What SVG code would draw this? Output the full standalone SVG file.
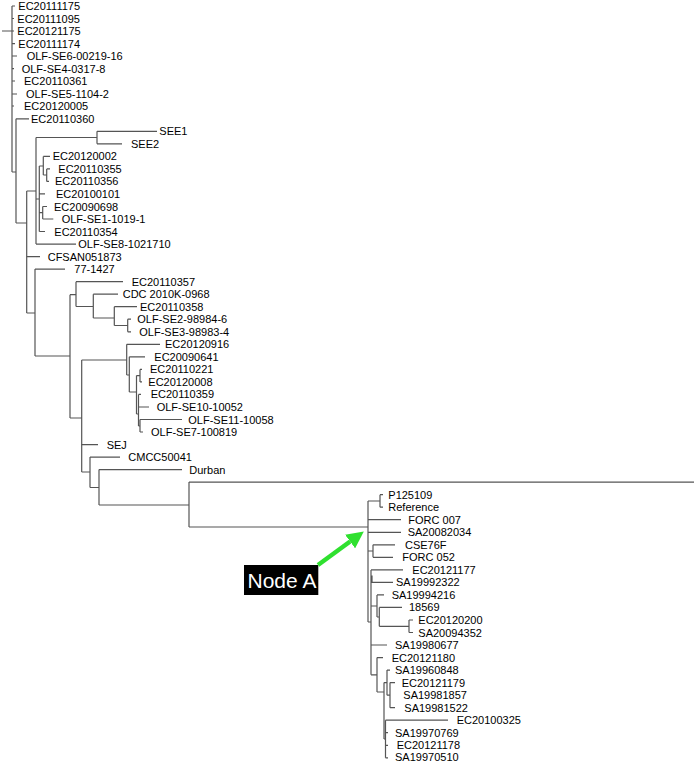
<svg xmlns="http://www.w3.org/2000/svg" width="694" height="761" viewBox="0 0 694 761">
<style>
.e{fill:none;stroke:#555;stroke-width:1.2}
.t{font-family:"Liberation Sans",Arial,Helvetica,sans-serif;font-size:11px;fill:#000}
.na{font-family:"Liberation Sans",Arial,Helvetica,sans-serif;font-size:21px;fill:#fff}
</style>
<defs>
<marker id="ah" markerUnits="userSpaceOnUse" markerWidth="17" markerHeight="17" viewBox="0 0 17 17" refX="0" refY="8.5" orient="auto">
<path d="M0,0 L17,8.5 L0,17 z" fill="#2fe02f"/>
</marker>
</defs>
<rect width="694" height="761" fill="#fff"/>
<g id="connectors" class="e">
<path d="M2,31 H12 M12,6 V172 M12,6 H15 M12,18.5 H14 M12,31 H14 M12,43.6 H15 M12,56 H17 M12,68.7 H14 M12,81 H15 M12,94 H17 M12,106 H14"/>
<path d="M12,172 H16 M16,118.8 V223 M16,118.8 H29 M16,223 H26.7 M26.7,191 V313 M26.7,191 H36"/>
<path d="M36,137.5 V244.1 M36,137.5 H97 M97,131.3 V143.8 M97,131.3 H157 M97,143.8 H122"/>
<path d="M36,199 H39.3 M39.3,166 V231.5 M39.3,166 H43.3 M43.3,156.4 V175 M43.3,156.4 H50 M43.3,175 H46.7 M46.7,168.9 V181.4 M46.7,168.9 H50 M46.7,181.4 H49 M39.3,193.9 H45 M39.3,212.7 H42.7 M42.7,206.5 V219 M42.7,206.5 H47 M42.7,219 H53.3 M39.3,231.5 H45 M36,244.1 H76"/>
<path d="M26.7,256.6 H40 M26.7,313 H35 M35,269.1 V356 M35,269.1 H65"/>
<path d="M35,356 H70 M70,294.7 V418 M70,294.7 H76 M76,281.7 V306.5 M76,281.7 H123 M76,306.5 H93.3 M93.3,294.2 V318 M93.3,294.2 H118 M93.3,318 H114.3 M114.3,306.7 V325.5 M114.3,306.7 H137 M114.3,325.5 H127.7 M127.7,319.2 V331.8 M127.7,319.2 H131 M127.7,331.8 H131"/>
<path d="M70,418 H81.7 M81.7,360 V472 M81.7,360 H126.7 M126.7,344.3 V375 M126.7,344.3 H160 M126.7,375 H129.3 M129.3,356.8 V392 M129.3,356.8 H145 M129.3,392 H136.5 M136.5,375.6 V414 M136.5,375.6 H140 M140,369.4 V381.9 M140,369.4 H142 M140,381.9 H142 M136.5,414 H138.5 M138.5,394.4 V426 M138.5,394.4 H141 M138.5,407 H149 M138.5,426 H140 M140,419.5 V432 M140,419.5 H182 M140,432 H143"/>
<path d="M81.7,444.6 H98 M81.7,472 H90 M90,457.1 V487.5 M90,457.1 H120 M90,487.5 H99 M99,469.6 V505 M99,469.6 H182 M99,505 H189 M189,482.1 V527 M189,482.1 H694 M189,527 H368"/>
<path d="M368,501 V622 M368,501 H380 M380,494.7 V507.2 M380,494.7 H383 M380,507.2 H383 M368,519.7 H401 M368,532.3 H401 M368,551 H373 M373,544.8 V557.3 M373,544.8 H395 M373,557.3 H393"/>
<path d="M368,622 H371 M371,569.9 V674.8 M371,569.9 H403 M371,576 H372 V582.4 H393 M371,606 H377 M377,594.9 V617 M377,594.9 H384 M377,617 H379.3 M379.3,607.4 V626.3 M379.3,607.4 H402 M379.3,626.3 H409 M409,620 V632.5 M409,620 H413 M409,632.5 H413"/>
<path d="M371,645 H387 M371,674.8 H377 M377,657.6 V692 M377,657.6 H383 M377,692 H384 M384,682.6 V739 M384,682.6 H387 M387,670.1 V695.2 M387,670.1 H390 M387,695.2 H390 M390,682.6 V707.7 M390,682.6 H395 M390,707.7 H395 M384,739 H385.5 M385.5,720.2 V757.8 M385.5,720.2 H448 M385.5,732.7 H388 M385.5,745.3 H388 M385.5,757.8 H388"/>
</g>
<g id="leaves" class="t">
<g id="n1"><text x="18.3" y="10">EC20111175</text></g>
<g id="n2"><text x="17.3" y="22.5">EC20111095</text></g>
<g id="n3"><text x="17.3" y="35.1">EC20121175</text></g>
<g id="n4"><text x="18.3" y="47.6">EC20111174</text></g>
<g id="n5"><text x="26.7" y="60.1">OLF-SE6-00219-16</text></g>
<g id="n6"><text x="21.7" y="72.7">OLF-SE4-0317-8</text></g>
<g id="n7"><text x="24" y="85.2">EC20110361</text></g>
<g id="n8"><text x="26" y="97.7">OLF-SE5-1104-2</text></g>
<g id="n9"><text x="24" y="110.2">EC20120005</text></g>
<g id="n10"><text x="31" y="122.8">EC20110360</text></g>
<g id="n11"><text x="159.3" y="135.3">SEE1</text></g>
<g id="n12"><text x="131" y="147.8">SEE2</text></g>
<g id="n13"><text x="52.7" y="160.4">EC20120002</text></g>
<g id="n14"><text x="58.3" y="172.9">EC20110355</text></g>
<g id="n15"><text x="55" y="185.4">EC20110356</text></g>
<g id="n16"><text x="56" y="197.9">EC20100101</text></g>
<g id="n17"><text x="54" y="210.5">EC20090698</text></g>
<g id="n18"><text x="61.7" y="223">OLF-SE1-1019-1</text></g>
<g id="n19"><text x="54.3" y="235.5">EC20110354</text></g>
<g id="n20"><text x="78.3" y="248.1">OLF-SE8-1021710</text></g>
<g id="n21"><text x="47.7" y="260.6">CFSAN051873</text></g>
<g id="n22"><text x="74.3" y="273.1">77-1427</text></g>
<g id="n23"><text x="131.7" y="285.7">EC20110357</text></g>
<g id="n24"><text x="122.7" y="298.2">CDC 2010K-0968</text></g>
<g id="n25"><text x="140" y="310.7">EC20110358</text></g>
<g id="n26"><text x="137.3" y="323.2">OLF-SE2-98984-6</text></g>
<g id="n27"><text x="139.3" y="335.8">OLF-SE3-98983-4</text></g>
<g id="n28"><text x="165" y="348.3">EC20120916</text></g>
<g id="n29"><text x="154.3" y="360.8">EC20090641</text></g>
<g id="n30"><text x="150" y="373.4">EC20110221</text></g>
<g id="n31"><text x="148.3" y="385.9">EC20120008</text></g>
<g id="n32"><text x="150.7" y="398.4">EC20110359</text></g>
<g id="n33"><text x="156.7" y="411">OLF-SE10-10052</text></g>
<g id="n34"><text x="188.3" y="423.5">OLF-SE11-10058</text></g>
<g id="n35"><text x="151" y="436">OLF-SE7-100819</text></g>
<g id="n36"><text x="106.7" y="448.6">SEJ</text></g>
<g id="n37"><text x="128.3" y="461.1">CMCC50041</text></g>
<g id="n38"><text x="189.3" y="473.6">Durban</text></g>
<g id="n40"><text x="388.3" y="498.7">P125109</text></g>
<g id="n41"><text x="388.3" y="511.2">Reference</text></g>
<g id="n42"><text x="408.3" y="523.7">FORC 007</text></g>
<g id="n43"><text x="407.7" y="536.3">SA20082034</text></g>
<g id="n44"><text x="405" y="548.8">CSE76F</text></g>
<g id="n45"><text x="402.3" y="561.3">FORC 052</text></g>
<g id="n46"><text x="412.3" y="573.9">EC20121177</text></g>
<g id="n47"><text x="396" y="586.4">SA19992322</text></g>
<g id="n48"><text x="391.7" y="598.9">SA19994216</text></g>
<g id="n49"><text x="409" y="611.4">18569</text></g>
<g id="n50"><text x="418.3" y="624">EC20120200</text></g>
<g id="n51"><text x="418.3" y="636.5">SA20094352</text></g>
<g id="n52"><text x="395" y="649">SA19980677</text></g>
<g id="n53"><text x="391.7" y="661.6">EC20121180</text></g>
<g id="n54"><text x="395" y="674.1">SA19960848</text></g>
<g id="n55"><text x="401.7" y="686.6">EC20121179</text></g>
<g id="n56"><text x="403.3" y="699.2">SA19981857</text></g>
<g id="n57"><text x="404.3" y="711.7">SA19981522</text></g>
<g id="n58"><text x="456.7" y="724.2">EC20100325</text></g>
<g id="n59"><text x="395" y="736.7">SA19970769</text></g>
<g id="n60"><text x="396.7" y="749.3">EC20121178</text></g>
<g id="n61"><text x="395" y="760.5">SA19970510</text></g>
</g>
<g id="node-a-callout">
<rect x="244" y="565" width="74.3" height="30" fill="#000"/>
<text class="na" x="247.5" y="588">Node A</text>
<line x1="318" y1="565" x2="350.1" y2="541.5" stroke="#2fe02f" stroke-width="4.5" marker-end="url(#ah)"/>
</g>
</svg>
